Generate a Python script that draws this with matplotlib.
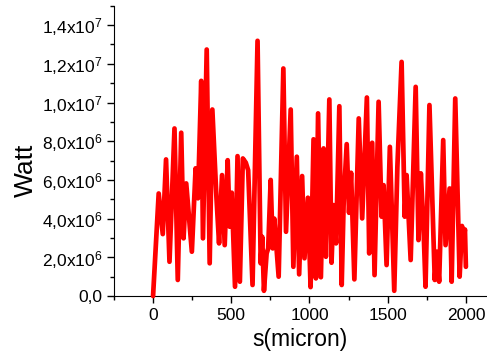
import matplotlib
matplotlib.use("agg")
import matplotlib.pyplot as plt
from matplotlib.ticker import MultipleLocator, FixedLocator, FixedFormatter

plt.rcParams['font.family'] = ['Liberation Sans', 'DejaVu Sans']
plt.rcParams['mathtext.fontset'] = 'custom'
plt.rcParams['mathtext.rm'] = 'Liberation Sans'
plt.rcParams['mathtext.it'] = 'Liberation Sans'

# values (s in micron, power in units of 1e6 W)
s = [0, 36, 62, 83, 105, 137, 158, 180, 195, 212, 248, 272, 287, 308, 319,
     343, 362, 379, 405, 422, 441, 458, 477, 490, 503, 524, 540, 555, 574,
     593, 608, 636, 668, 688, 698, 709, 726, 736, 752, 765, 775, 803, 833,
     850, 880, 897, 919, 934, 953, 968, 990, 1007, 1026, 1041, 1055, 1073,
     1090, 1105, 1127, 1141, 1154, 1170, 1191, 1206, 1219, 1238, 1253, 1266,
     1287, 1315, 1337, 1367, 1382, 1401, 1416, 1442, 1461, 1474, 1493, 1514,
     1542, 1562, 1589, 1609, 1621, 1647, 1679, 1697, 1712, 1729, 1742, 1767,
     1801, 1814, 1829, 1855, 1870, 1896, 1909, 1932, 1960, 1975, 1985, 1994,
     2000]
watt = [0.0, 5.3, 3.2, 7.06, 1.77, 8.66, 0.83, 8.44, 2.98, 5.82, 2.29, 6.6,
        5.05, 11.12, 2.98, 12.74, 1.69, 9.64, 5.13, 2.72, 6.25, 2.63, 7.02,
        3.58, 5.34, 0.48, 7.23, 0.74, 7.11, 6.89, 6.5, 0.57, 13.19, 1.69,
        3.06, 0.27, 2.2, 2.46, 6.0, 2.46, 4.0, 1.0, 11.76, 3.32, 9.64, 1.51,
        7.2, 1.12, 6.2, 1.95, 5.08, 0.46, 8.1, 0.91, 9.44, 0.97, 7.63, 2.03,
        10.16, 1.72, 4.7, 2.72, 9.81, 0.57, 4.96, 7.85, 4.3, 6.37, 0.86, 9.18,
        4.01, 10.26, 2.2, 7.92, 1.08, 10.04, 4.1, 5.73, 1.6, 7.71, 0.27, 6.68,
        12.1, 4.1, 6.25, 1.86, 10.81, 2.89, 6.34, 3.58, 0.48, 9.87, 0.83,
        2.29, 0.74, 8.06, 2.63, 5.56, 0.74, 10.21, 1.0, 3.62, 2.89, 3.44,
        1.51]
watt = [w * 1e6 for w in watt]

yticks = [0, 2e6, 4e6, 6e6, 8e6, 1e7, 1.2e7, 1.4e7]
ytick_labels = ['0,0', r'2,0x10$^{6}$', r'4,0x10$^{6}$', r'6,0x10$^{6}$',
                r'8,0x10$^{6}$', r'1,0x10$^{7}$', r'1,2x10$^{7}$',
                r'1,4x10$^{7}$']

fig = plt.figure(figsize=(4.87, 3.61), dpi=100)
ax = fig.add_axes([0.234, 0.18, 0.766, 0.804])
ax.plot(s, watt, color='#ff0000', lw=3.4, solid_joinstyle='round',
        solid_capstyle='round', clip_on=False, zorder=3)

ax.set_xlim(-250, 2135)
ax.set_ylim(0, 1.5e7)
ax.xaxis.set_major_locator(MultipleLocator(500))
ax.xaxis.set_minor_locator(MultipleLocator(250))
ax.yaxis.set_major_locator(FixedLocator(yticks))
ax.yaxis.set_major_formatter(FixedFormatter(ytick_labels))
ax.yaxis.set_minor_locator(MultipleLocator(1e6))

for side in ['top', 'right']:
    ax.spines[side].set_visible(False)
ax.tick_params(which='major', direction='out', length=5, width=1, labelsize=12.5)
ax.tick_params(which='minor', direction='out', length=3, width=1)

ax.set_xlabel('s(micron)', fontsize=16.5)
ax.set_ylabel('Watt', fontsize=19)
ax.yaxis.set_label_coords(-0.205, 0.434)

plt.savefig('out.png', dpi=100)
plt.close()
